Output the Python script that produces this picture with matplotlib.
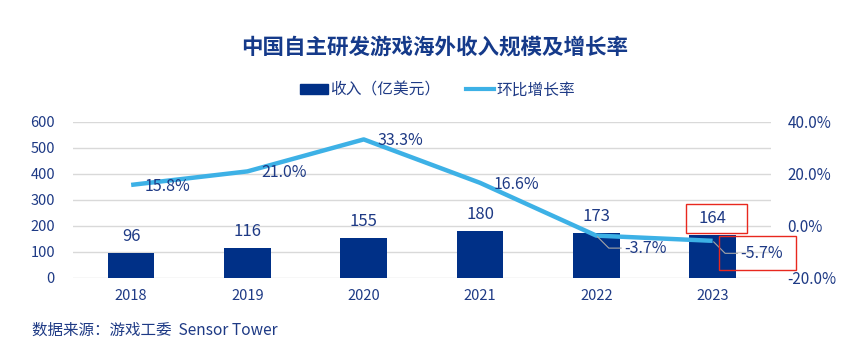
import matplotlib.pyplot as plt
from matplotlib.ticker import FuncFormatter
from matplotlib.patches import Rectangle
from matplotlib.text import Text

plt.rcParams['font.family'] = ['Noto Sans CJK SC', 'DejaVu Sans']

# 数据
years = ["2018", "2019", "2020", "2021", "2022", "2023"]
revenue = [96, 116, 155, 180, 173, 164]          # 亿美元
growth = [15.8, 21.0, 33.3, 16.6, -3.7, -5.7]     # %

BAR_COLOR = "#003087"
LINE_COLOR = "#3DB1E6"
TEXT_COLOR = "#1E3A85"
GRID_COLOR = "#D9D9D9"
RED = "#E8281E"

fig = plt.figure(figsize=(8.66, 3.57), dpi=100)
ax = fig.add_axes([0.0843, 0.2213, 0.8057, 0.437])
ax2 = ax.twinx()

x = list(range(len(years)))
ax.bar(x, revenue, width=0.4, color=BAR_COLOR, zorder=2)
ax.set_xlim(-0.5, len(years) - 0.5)
ax.set_ylim(0, 600)
ax.set_yticks(range(0, 601, 100))
ax.yaxis.grid(True, color=GRID_COLOR, linewidth=1)
ax.set_axisbelow(True)
ax.set_xticks(x)
ax.set_xticklabels(years)
ax.tick_params(axis="both", length=0, labelsize=10.5, labelcolor=TEXT_COLOR, pad=8)
ax.tick_params(axis="y", pad=13)
for s in ax.spines.values():
    s.set_visible(False)

# 柱子数值
bar_texts = []
for i, v in enumerate(revenue):
    t = ax.annotate(str(v), (i, v), xytext=(0, 12), textcoords="offset points",
                    ha="center", va="center", fontsize=12, color=TEXT_COLOR)
    bar_texts.append(t)

# 增长率折线
ax2.plot(x, growth, color=LINE_COLOR, linewidth=3.2, solid_capstyle="butt", zorder=3)
ax2.set_ylim(-20, 40)
ax2.set_yticks([-20, 0, 20, 40])
ax2.yaxis.set_major_formatter(FuncFormatter(lambda v, p: f"{v:.1f}%"))
ax2.tick_params(axis="y", length=0, labelsize=11, labelcolor=TEXT_COLOR, pad=12)
for s in ax2.spines.values():
    s.set_visible(False)

line_texts = []
for i, g in enumerate(growth):
    if g >= 0:
        t = ax2.annotate(f"{g:.1f}%", (i, g), xytext=(10, -1), textcoords="offset points",
                         ha="left", va="center", fontsize=11.5, color=TEXT_COLOR)
    else:
        t = ax2.annotate(f"{g:.1f}%", (i, g), xytext=(20, -9), textcoords="offset points",
                         ha="left", va="center", fontsize=11.5, color=TEXT_COLOR,
                         arrowprops=dict(arrowstyle="-", color="#A6A6A6", lw=0.8,
                                         connectionstyle="angle,angleA=0,angleB=-45,rad=0",
                                         shrinkA=0, shrinkB=1))
    line_texts.append(t)

# 标题与图例
fig.text(0.502, 0.868, "中国自主研发游戏海外收入规模及增长率", ha="center", va="center",
         fontsize=15.5, fontweight="bold", color="#153A8A")

h1 = plt.Rectangle((0, 0), 1, 1, color=BAR_COLOR)
h2, = ax2.plot([], [], color=LINE_COLOR, linewidth=3)
fig.legend([h1, h2], ["收入（亿美元）", "环比增长率"], loc="center",
           bbox_to_anchor=(0.505, 0.748), ncol=2, frameon=False, fontsize=11.3,
           labelcolor=TEXT_COLOR, handlelength=1.8, handleheight=0.55,
           columnspacing=1.6, handletextpad=0.15)

fig.text(0.037, 0.075, "数据来源：游戏工委  Sensor Tower", ha="left", va="center",
         fontsize=11.2, color=TEXT_COLOR)

# 红色标注框（围绕2023年标签）
fig.canvas.draw()
renderer = fig.canvas.get_renderer()
for t, (l, r, b, tp) in [(bar_texts[-1], (13, 20, 14, 15)),
                         (line_texts[-1], (21, 13, 17, 17))]:
    bb = Text.get_window_extent(t, renderer)
    cy = (bb.y0 + bb.y1) / 2
    fig.add_artist(Rectangle((bb.x0 - l, cy - b), bb.width + l + r, b + tp,
                             transform=None, fill=False, ec=RED, lw=1))

fig.savefig("out.png", dpi=100, facecolor="white")
